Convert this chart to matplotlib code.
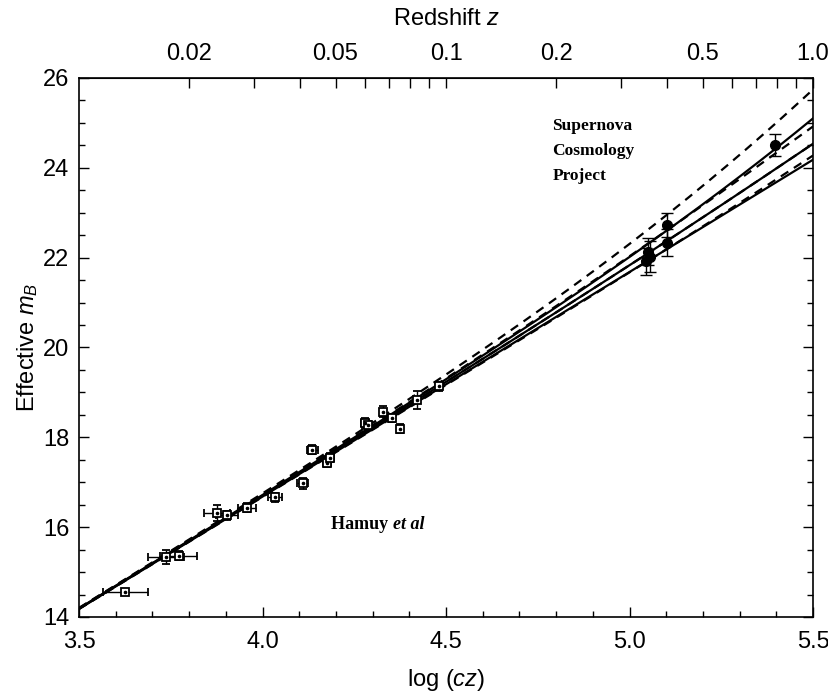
import numpy as np
import matplotlib
matplotlib.use("Agg")
import matplotlib.pyplot as plt
from matplotlib.ticker import MultipleLocator, FixedLocator, NullFormatter
from matplotlib.transforms import offset_copy

plt.rcParams["font.family"] = ["Liberation Sans", "DejaVu Sans"]
plt.rcParams["mathtext.fontset"] = "custom"
plt.rcParams["mathtext.rm"] = "Liberation Sans"
plt.rcParams["mathtext.it"] = "Liberation Sans:italic"

# Calan/Tololo low-redshift supernovae (open squares)
lowz_logcz = [3.626, 3.737, 3.772, 3.876, 3.903, 3.958, 4.034, 4.110, 4.135,
              4.176, 4.184, 4.279, 4.287, 4.328, 4.353, 4.375, 4.421, 4.481]
lowz_m = [14.56, 15.34, 15.36, 16.32, 16.27, 16.43, 16.67, 16.98, 17.72,
          17.43, 17.54, 18.32, 18.27, 18.57, 18.43, 18.19, 18.83, 19.14]
lowz_xerr = [0.061, 0.05, 0.05, 0.035, 0.03, 0.025, 0.02, 0.015, 0.015,
             0.012, 0.012, 0.01, 0.01, 0.008, 0.008, 0.008, 0.007, 0.006]
lowz_yerr = [0.05, 0.15, 0.1, 0.18, 0.1, 0.1, 0.1, 0.12, 0.1,
             0.1, 0.1, 0.12, 0.1, 0.12, 0.1, 0.1, 0.2, 0.1]

# Supernova Cosmology Project high-redshift supernovae (filled circles)
hiz_logcz = [5.045, 5.050, 5.055, 5.102, 5.102, 5.396]
hiz_m = [21.92, 22.13, 22.02, 22.73, 22.33, 24.51]
hiz_yerr = [0.3, 0.3, 0.35, 0.27, 0.3, 0.25]

# theory curves: (Omega_M, Omega_Lambda)
solid_models = [(0.0, 0.0), (1.0, 0.0), (2.0, 0.0)]
dashed_models = [(0.0, 1.0), (0.5, 0.5), (1.0, 0.0), (1.5, -0.5)]
script_M = -3.32
c_kms = 299792.458

# top axis
z_major = [0.02, 0.05, 0.1, 0.2, 0.5, 1.0]
z_major_labels = ["0.02", "0.05", "0.1", "0.2", "0.5", "1.0"]
z_minor = [0.03, 0.04, 0.06, 0.07, 0.08, 0.09, 0.3, 0.4, 0.6, 0.7, 0.8, 0.9]


def model_mag(logcz, om, ol):
    z = 10 ** logcz / c_kms
    ok = 1 - om - ol
    zg = np.linspace(0, z.max(), 4000)
    E = np.sqrt(om * (1 + zg) ** 3 + ok * (1 + zg) ** 2 + ol)
    chi_g = np.concatenate([[0], np.cumsum(0.5 * (1 / E[1:] + 1 / E[:-1]) * np.diff(zg))])
    chi = np.interp(z, zg, chi_g)
    if ok > 1e-9:
        dm = np.sinh(np.sqrt(ok) * chi) / np.sqrt(ok)
    elif ok < -1e-9:
        dm = np.sin(np.sqrt(-ok) * chi) / np.sqrt(-ok)
    else:
        dm = chi
    dl = (1 + z) * dm
    return script_M + 5 * np.log10(c_kms * dl)


fig = plt.figure(figsize=(8.29, 7.0), dpi=100)
ax = fig.add_axes([0.0953, 0.1186, 0.8854, 0.77])

xg = np.linspace(3.5, 5.5, 400)
for om, ol in solid_models:
    ax.plot(xg, model_mag(xg, om, ol), color="black", lw=1.6)
for om, ol in dashed_models:
    ax.plot(xg, model_mag(xg, om, ol), color="black", lw=1.6, dashes=(4, 3))

ax.errorbar(lowz_logcz, lowz_m, xerr=lowz_xerr, yerr=lowz_yerr, fmt="s",
            ms=6, mfc="white", mec="black", mew=1.3, ecolor="black",
            elinewidth=1.0, capsize=3, zorder=5)
# small dot in the middle of each open square
ax.plot(lowz_logcz, lowz_m, ls="none", marker="o", ms=1.6, color="black", zorder=6)
ax.errorbar(hiz_logcz, hiz_m, yerr=hiz_yerr, fmt="o", ms=7, color="black",
            elinewidth=1.0, capsize=4, zorder=5)

ax.set_xlim(3.5, 5.5)
ax.set_ylim(14, 26)
ax.xaxis.set_major_locator(MultipleLocator(0.5))
ax.xaxis.set_minor_locator(MultipleLocator(0.1))
ax.yaxis.set_major_locator(MultipleLocator(2))
ax.yaxis.set_minor_locator(MultipleLocator(0.5))
ax.xaxis.set_major_formatter(plt.FuncFormatter(lambda v, p: f"{v:.1f}"))
ax.tick_params(which="both", direction="in", top=False, right=True,
               labelsize=17, width=1)
ax.tick_params(which="major", length=7.5)
ax.tick_params(which="minor", length=4)
ax.tick_params(axis="x", pad=10)
ax.tick_params(axis="y", pad=7)

ax.set_xlabel("log ($cz$)", fontsize=17, labelpad=10)
ax.set_ylabel("Effective $m_B$", fontsize=17, labelpad=2)


def fwd(x):
    return 10 ** (np.asarray(x) - 5.5)


def inv(z):
    return np.log10(np.clip(z, 1e-9, None)) + 5.5


sec = ax.secondary_xaxis("top", functions=(fwd, inv))
sec.xaxis.set_major_locator(FixedLocator(z_major))
sec.xaxis.set_minor_locator(FixedLocator(z_minor))
sec.set_xticklabels(z_major_labels)
sec.xaxis.set_minor_formatter(NullFormatter())
sec.tick_params(which="both", direction="in", labelsize=17, width=1, length=7)
sec.tick_params(which="major", pad=9)
sec.set_xlabel("Redshift $z$", fontsize=17, labelpad=13)

for s in ax.spines.values():
    s.set_linewidth(1.2)

ax.text(4.79, 25.12, "Supernova\nCosmology\nProject", va="top", ha="left",
        family="Liberation Serif", fontweight="bold", fontsize=12.5, linespacing=1.75)

t1 = ax.text(4.187, 16.05, "Hamuy ", va="center", ha="left",
             family="Liberation Serif", fontweight="bold", fontsize=13)
fig.canvas.draw()
bb = t1.get_window_extent()
w_pts = bb.width * 72 / fig.dpi
ax.text(4.187, 16.05, "et al", va="center", ha="left",
        family="Liberation Serif", fontweight="bold", style="italic", fontsize=13,
        transform=offset_copy(ax.transData, fig=fig, x=w_pts, y=0, units="points"))

fig.savefig("out.png", dpi=100)
